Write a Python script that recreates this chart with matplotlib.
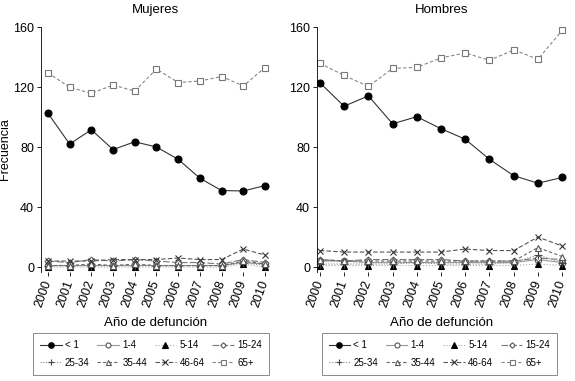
import matplotlib
matplotlib.use("Agg")
import matplotlib.pyplot as plt

plt.rcParams['font.family'] = ['Liberation Sans', 'DejaVu Sans']

years = list(range(2000, 2011))
groups = ["< 1", "1-4", "5-14", "15-24", "25-34", "35-44", "46-64", "65+"]

muj = {
    "< 1":   [102.5, 82, 91.5, 78.3, 83.5, 80, 71.8, 59.2, 51, 50.7, 54.3],
    "1-4":   [1, 1, 1, 1, 1, 1, 1, 1, 1, 3, 2],
    "5-14":  [0, 0, 0, 0, 0, 0, 0, 0, 0, 2, 0],
    "15-24": [4, 3, 5, 4, 5, 4, 3, 3, 2, 5, 3],
    "25-34": [1, 1, 1, 1, 1, 1, 1, 1, 1, 3, 1],
    "35-44": [1, 1, 2, 1, 2, 1, 1, 1, 1, 4, 2],
    "46-64": [4, 4, 4, 5, 5, 5, 6, 5, 5, 12, 8],
    "65+":   [129.5, 119.8, 115.8, 121.3, 117.3, 132, 123, 124, 127, 120.7, 133],
}
hom = {
    "< 1":   [122.8, 107.2, 114.1, 95.5, 100.2, 92.2, 85.2, 71.8, 60.9, 55.9, 59.7],
    "1-4":   [4, 4, 3, 3, 3, 3, 3, 3, 3, 5, 3],
    "5-14":  [1, 1, 1, 1, 1, 1, 1, 1, 1, 2, 1],
    "15-24": [5, 4, 5, 5, 5, 5, 4, 4, 4, 6, 5],
    "25-34": [2, 2, 2, 2, 3, 2, 2, 2, 3, 8, 3],
    "35-44": [5, 4, 4, 4, 4, 4, 4, 4, 4, 13, 7],
    "46-64": [11, 10, 10, 10, 10, 10, 12, 11, 11, 20, 14],
    "65+":   [135.8, 127.7, 120.4, 132.4, 133.1, 139.4, 142.7, 137.8, 144.7, 138.5, 157.7],
}
yticks = [0, 40, 80, 120, 160]

styles = {
    "< 1":   dict(color="#333333", ls="-", marker="o", mfc="black", mec="black", ms=5),
    "1-4":   dict(color="#999999", ls="-", marker="o", mfc="white", mec="#555555", ms=4.5),
    "5-14":  dict(color="#aaaaaa", ls=":", marker="^", mfc="black", mec="black", ms=5),
    "15-24": dict(color="#777777", ls=(0, (6, 2)), marker="D", mfc="white", mec="#555555", ms=3.5),
    "25-34": dict(color="#888888", ls=(0, (1, 1.5)), marker="+", mfc="none", mec="#444444", ms=6),
    "35-44": dict(color="#666666", ls=(0, (3, 2)), marker="^", mfc="white", mec="#555555", ms=4.5),
    "46-64": dict(color="#555555", ls=(0, (4, 2)), marker="x", mfc="none", mec="#333333", ms=5),
    "65+":   dict(color="#888888", ls=(0, (3, 2)), marker="s", mfc="white", mec="#777777", ms=4.5),
}

fig = plt.figure(figsize=(5.75, 3.81), dpi=100)
axL = fig.add_axes([41/575, 1-272/381, (270-41)/575, (272-27)/381])
axR = fig.add_axes([317/575, 1-272/381, (567-317)/575, (272-27)/381])

def draw(ax, data, title, xlim):
    handles = {}
    for g in groups:
        st = styles[g]
        h, = ax.plot(years, data[g], color=st["color"], ls=st["ls"], lw=0.8,
                     marker=st["marker"], ms=st["ms"], mfc=st["mfc"], mec=st["mec"],
                     mew=0.8, label=g)
        handles[g] = h
    ax.set_xlim(*xlim)
    ax.set_ylim(-3.3, 160)
    ax.set_yticks(yticks)
    ax.set_xticks(years)
    ax.set_xticklabels([str(y) for y in years], rotation=70, fontsize=9,
                       ha="right", va="center", rotation_mode="anchor")
    ax.tick_params(axis="y", labelsize=9, length=3, width=0.6, pad=2)
    ax.tick_params(axis="x", length=3, width=0.6, pad=3)
    for s in ["top", "right", "bottom"]:
        ax.spines[s].set_visible(False)
    ax.spines["left"].set_linewidth(0.6)
    ax.set_title(title, fontsize=9.5, pad=10)
    ax.set_xlabel("Año de defunción", fontsize=9.5, labelpad=6)
    return handles

hL = draw(axL, muj, "Mujeres", (1999.68, 2010.23))
hR = draw(axR, hom, "Hombres", (1999.88, 2010.2))
axL.set_ylabel("Frecuencia", fontsize=9)
axL.yaxis.set_label_coords(-29.5/229, 0.5)

# row-major order for a 2x4 legend (matplotlib fills column by column)
order = [groups[i] for i in (0, 4, 1, 5, 2, 6, 3, 7)]
for handles, (x0, x1) in [(hL, (30, 272)), (hR, (317, 562))]:
    leg = fig.legend(handles=[handles[g] for g in order], labels=order, ncol=4,
                     fontsize=7, loc="center",
                     bbox_to_anchor=((x0+x1)/2/575, 1-354/381),
                     frameon=True, fancybox=False, edgecolor="#555555",
                     handlelength=2.2, handletextpad=0.35, columnspacing=0.8,
                     borderpad=0.7, labelspacing=0.8, markerscale=0.8)
    leg.get_frame().set_linewidth(0.6)

fig.savefig("out.png", dpi=100)
